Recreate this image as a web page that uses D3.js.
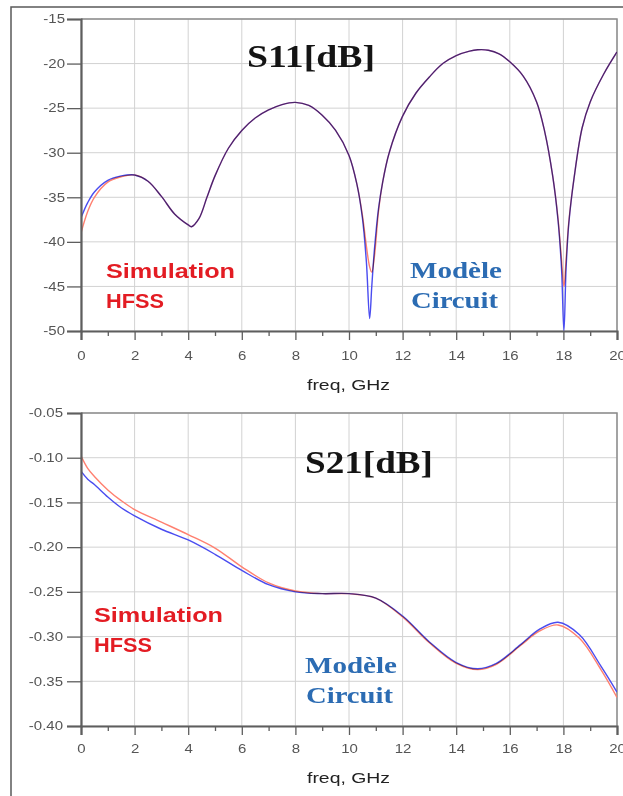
<!DOCTYPE html>
<html>
<head>
<meta charset="utf-8">
<script src="https://cdn.jsdelivr.net/npm/d3@7"></script>
<style>
  body { margin: 0; background: #fff; }
  svg { display: block; }
</style>
</head>
<body>
<svg id="chart" width="623" height="796"></svg>
<script>
// Frequency axis (GHz)
const xTicks = [0, 2, 4, 6, 8, 10, 12, 14, 16, 18, 20];
const xMinor = [1, 3, 5, 7, 9, 11, 13, 15, 17, 19];

// S11 [dB]
const s11Ticks = [-15, -20, -25, -30, -35, -40, -45, -50];
const s11Freq = [0, 0.25, 0.5, 1, 1.5, 2, 2.5, 3, 3.5, 4, 4.12, 4.4, 4.7, 5, 5.5, 6, 6.5, 7, 7.5, 8,
  8.5, 9, 9.5, 10, 10.3, 10.5, 10.65, 10.77, 10.85, 10.95, 11.1, 11.25, 11.5, 12, 12.5, 13, 13.5, 14,
  14.5, 14.8, 15.2, 15.6, 16, 16.5, 17, 17.3, 17.6, 17.8, 17.93, 18.02, 18.1, 18.2, 18.4, 18.7, 19, 19.5, 20];
const s11Hfss = [-39.0, -36.6, -35.0, -33.3, -32.7, -32.5, -33.2, -34.9, -36.9, -38.1, -38.3, -37.4, -35.0,
  -32.6, -29.5, -27.5, -26.1, -25.2, -24.6, -24.35, -24.7, -25.8, -27.5, -30.3, -33.6, -37.0, -40.5, -42.8,
  -43.4, -41.6, -36.6, -33.4, -30.0, -25.9, -23.3, -21.5, -20.0, -19.1, -18.6, -18.45, -18.5, -18.9, -19.8,
  -21.4, -24.3, -27.6, -32.6, -37.4, -42.0, -45.0, -42.0, -37.8, -32.8, -27.2, -24.3, -21.2, -18.7];
const s11Circuit = [-37.3, -35.6, -34.4, -33.1, -32.6, -32.5, -33.2, -34.9, -36.9, -38.1, -38.3, -37.4, -35.0,
  -32.6, -29.5, -27.5, -26.1, -25.2, -24.6, -24.35, -24.7, -25.8, -27.5, -30.3, -33.6, -37.3, -42.3, -48.6,
  -45.0, -40.8, -36.3, -33.4, -30.0, -25.9, -23.3, -21.5, -20.0, -19.1, -18.6, -18.45, -18.5, -18.9, -19.8,
  -21.4, -24.3, -27.6, -32.6, -37.6, -43.0, -50.0, -43.0, -38.0, -32.8, -27.2, -24.3, -21.2, -18.7];

// S21 [dB]
const s21Ticks = [-0.05, -0.10, -0.15, -0.20, -0.25, -0.30, -0.35, -0.40];
const s21Freq = [0, 0.25, 0.5, 1, 1.5, 2, 3, 4, 5, 6, 7, 8, 9, 10, 11, 12, 13, 14, 14.8, 15.5, 16.4,
  17.1, 17.8, 18.6, 19.4, 20];
const s21Hfss = [-0.098, -0.112, -0.121, -0.136, -0.148, -0.158, -0.172, -0.186, -0.201, -0.222, -0.240,
  -0.249, -0.252, -0.252, -0.257, -0.278, -0.307, -0.330, -0.337, -0.331, -0.310, -0.294, -0.287, -0.302,
  -0.337, -0.368];
const s21Circuit = [-0.115, -0.124, -0.130, -0.144, -0.156, -0.165, -0.180, -0.192, -0.208, -0.226, -0.242,
  -0.250, -0.252, -0.252, -0.257, -0.277, -0.306, -0.329, -0.336, -0.330, -0.309, -0.292, -0.284, -0.298,
  -0.333, -0.362];

const RED = "#ff8070";
const BLUE = "#4a4cf0";
const LABEL_RED = "#e31c23";
const LABEL_BLUE = "#2c6cb3";
const SX = 1.25; // horizontal text stretch

const svg = d3.select("#chart");
svg.append("rect").attr("width", 623).attr("height", 796).attr("fill", "#fff");

// outer frame
svg.append("path")
  .attr("d", "M11,796 L11,7 L623,7")
  .attr("fill", "none").attr("stroke", "#5a5a5a").attr("stroke-width", 1.5);

function stretchedText(g, str, x, y, opts) {
  const t = g.append("text")
    .attr("transform", `translate(${x},${y})`)
    .attr("font-family", opts.family)
    .attr("font-size", opts.size)
    .attr("font-weight", opts.weight || "normal")
    .attr("fill", opts.color)
    .text(str);
  if (opts.width) {
    t.attr("textLength", opts.width).attr("lengthAdjust", "spacingAndGlyphs");
  }
  return t;
}

function panel(cfg) {
  const x = d3.scaleLinear().domain([0, 20]).range([81, 617]);
  const y = d3.scaleLinear().domain(cfg.domain).range([cfg.bottom, cfg.top]);
  const g = svg.append("g");
  const clipId = "clip-" + cfg.id;

  g.append("clipPath").attr("id", clipId).append("rect")
    .attr("x", 81).attr("y", cfg.top - 1).attr("width", 536).attr("height", cfg.bottom - cfg.top + 2);

  // grid
  g.append("g").selectAll("line").data(xTicks).join("line")
    .attr("x1", d => x(d)).attr("x2", d => x(d))
    .attr("y1", cfg.top).attr("y2", cfg.bottom)
    .attr("stroke", "#d2d2d2").attr("stroke-width", 1);
  g.append("g").selectAll("line").data(cfg.ticks).join("line")
    .attr("x1", 81).attr("x2", 617)
    .attr("y1", d => y(d)).attr("y2", d => y(d))
    .attr("stroke", "#d2d2d2").attr("stroke-width", 1);

  // top and right border
  g.append("path")
    .attr("d", `M81,${cfg.top} L617,${cfg.top} L617,${cfg.bottom}`)
    .attr("fill", "none").attr("stroke", "#8c8c8c").attr("stroke-width", 1.5);

  // curves
  const line = d3.line()
    .x(d => x(d[0])).y(d => y(d[1]))
    .curve(d3.curveCatmullRom.alpha(0.5));
  const curves = g.append("g").attr("clip-path", `url(#${clipId})`);
  [[cfg.hfss, RED], [cfg.circuit, BLUE]].forEach(([vals, col]) => {
    curves.append("path")
      .datum(cfg.freq.map((f, i) => [f, vals[i]]))
      .attr("d", line)
      .attr("fill", "none")
      .attr("stroke", col)
      .attr("stroke-width", 1.4)
      .style("mix-blend-mode", "multiply");
  });

  // y axis
  const ya = g.append("g").attr("transform", "translate(81,0)")
    .call(d3.axisLeft(y).tickValues(cfg.ticks).tickSize(14).tickPadding(2).tickFormat(cfg.fmt));
  ya.select(".domain").attr("stroke", "#5e5e5e").attr("stroke-width", 2.2);
  ya.selectAll(".tick line").attr("stroke", "#5e5e5e").attr("stroke-width", 1.3);
  ya.selectAll(".tick text")
    .attr("x", null)
    .attr("transform", `translate(${cfg.labelDx},0) scale(${SX},1)`)
    .attr("fill", "#555").attr("font-size", 12).attr("font-family", "Liberation Sans, Arial, sans-serif");

  // x axis, major and minor ticks
  const xa = g.append("g").attr("transform", `translate(0,${cfg.bottom})`)
    .call(d3.axisBottom(x).tickValues(xTicks).tickSize(9).tickPadding(cfg.xPad).tickFormat(d => String(d)));
  xa.select(".domain").attr("stroke", "#5e5e5e").attr("stroke-width", 2.2);
  xa.selectAll(".tick line").attr("stroke", "#5e5e5e").attr("stroke-width", 1.3);
  xa.selectAll(".tick text")
    .attr("transform", `scale(${SX},1)`)
    .attr("fill", "#555").attr("font-size", 12).attr("font-family", "Liberation Sans, Arial, sans-serif");
  const xm = g.append("g").attr("transform", `translate(0,${cfg.bottom})`)
    .call(d3.axisBottom(x).tickValues(xMinor).tickSize(5).tickFormat(""));
  xm.select(".domain").remove();
  xm.selectAll(".tick line").attr("stroke", "#5e5e5e").attr("stroke-width", 1.3);

  // axis title
  stretchedText(g, "freq, GHz", 307, cfg.xTitleY, {
    family: "Liberation Sans, Arial, sans-serif", size: 15, color: "#222", width: 83
  });

  // chart title
  stretchedText(g, cfg.title, cfg.titleX, cfg.titleY, {
    family: "Liberation Serif, Times New Roman, serif", size: 31, weight: "bold", color: "#141414", width: 128
  });

  // series labels
  const sans = "Liberation Sans, Arial, sans-serif";
  const serif = "Liberation Serif, Times New Roman, serif";
  stretchedText(g, "Simulation", cfg.simX, cfg.simY, { family: sans, size: 21, weight: "bold", color: LABEL_RED, width: 129 });
  stretchedText(g, "HFSS", cfg.simX, cfg.simY + 30, { family: sans, size: 21, weight: "bold", color: LABEL_RED, width: 58 });
  stretchedText(g, "Modèle", cfg.modX, cfg.modY, { family: serif, size: 23, weight: "bold", color: LABEL_BLUE, width: 92 });
  stretchedText(g, "Circuit", cfg.modX + 1, cfg.modY + 30, { family: serif, size: 23, weight: "bold", color: LABEL_BLUE, width: 87 });
}

panel({
  id: "s11", domain: [-50, -15], top: 19, bottom: 331, ticks: s11Ticks,
  fmt: d => String(d), labelDx: -16, xPad: 11, xTitleY: 390,
  freq: s11Freq, hfss: s11Hfss, circuit: s11Circuit,
  title: "S11[dB]", titleX: 247, titleY: 67,
  simX: 106, simY: 278, modX: 410, modY: 278
});

panel({
  id: "s21", domain: [-0.40, -0.05], top: 413, bottom: 726, ticks: s21Ticks,
  fmt: d => d.toFixed(2), labelDx: -18, xPad: 9, xTitleY: 783,
  freq: s21Freq, hfss: s21Hfss, circuit: s21Circuit,
  title: "S21[dB]", titleX: 305, titleY: 473,
  simX: 94, simY: 622, modX: 305, modY: 673
});
</script>
</body>
</html>
